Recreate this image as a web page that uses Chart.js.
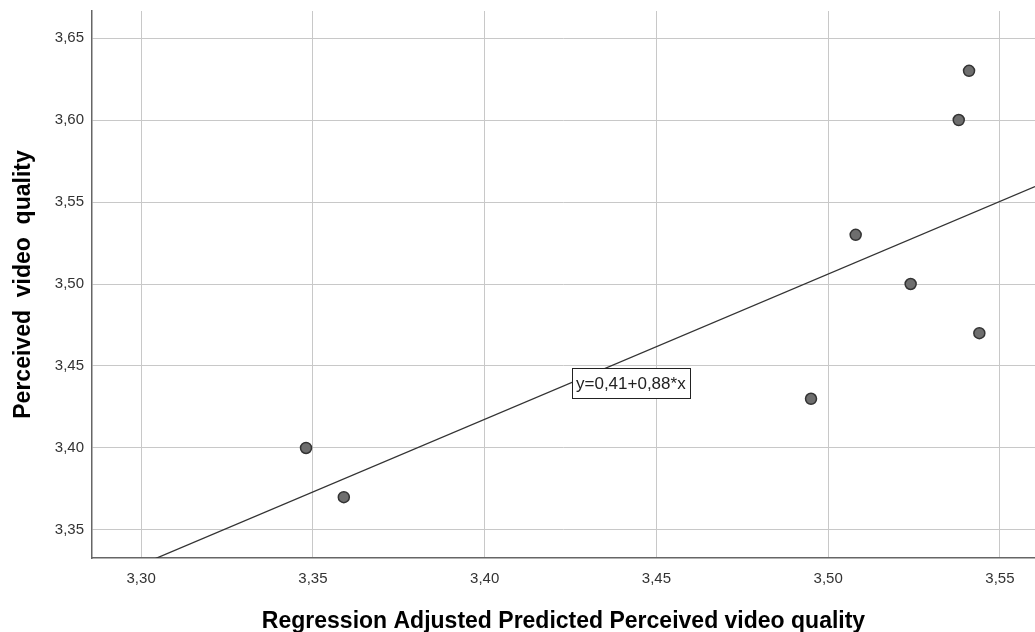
<!DOCTYPE html>
<html>
<head>
<meta charset="utf-8">
<script src="https://cdn.jsdelivr.net/npm/chart.js@4"></script>
<style>
  html, body { margin: 0; padding: 0; background: #fff; overflow: hidden; }
  #wrap { width: 1035px; height: 632px; overflow: hidden; }
</style>
</head>
<body>
<!-- canvas a bit wider than the window: the plot in the original runs off the right edge -->
<div id="wrap"><canvas id="myChart" width="1042" height="632"></canvas></div>
<script>
// observed points (predicted vs perceived)
const predicted = [3.348, 3.359, 3.495, 3.508, 3.524, 3.538, 3.541, 3.544];
const perceived = [3.40, 3.37, 3.43, 3.53, 3.50, 3.60, 3.63, 3.47];

// fit line end points
const fitX = [3.2857, 3.5602];
const fitY = [3.3162, 3.5594];

const fitLabel = 'y=0,41+0,88*x';
const xTitle = 'Regression Adjusted Predicted Perceived video quality';
const yTitle = 'Perceived  video  quality';

const fmt = v => v.toFixed(2).replace('.', ',');
const FONT = '"Liberation Sans", Arial, sans-serif';

const points = predicted.map((x, i) => ({ x: x, y: perceived[i] }));
const line = fitX.map((x, i) => ({ x: x, y: fitY[i] }));

// little boxed equation, like spss puts on the fit line
const eqBox = {
  id: 'eqBox',
  afterDatasetsDraw(chart) {
    const ctx = chart.ctx;
    const xs = chart.scales.x, ys = chart.scales.y;
    const left = Math.round(xs.getPixelForValue(3.4253));
    const mid = Math.round(ys.getPixelForValue(3.4396));
    ctx.save();
    ctx.font = '17px ' + FONT;
    const w = Math.round(ctx.measureText(fitLabel).width) + 8;
    const h = 30;
    ctx.fillStyle = '#fff';
    ctx.fillRect(left, mid - h / 2, w, h);
    ctx.strokeStyle = '#222';
    ctx.lineWidth = 1;
    ctx.strokeRect(left + 0.5, mid - h / 2 + 0.5, w, h);
    ctx.fillStyle = '#222';
    ctx.textBaseline = 'middle';
    ctx.fillText(fitLabel, left + 4, mid + 1);
    ctx.restore();
  }
};

new Chart('myChart', {
  type: 'scatter',
  data: {
    datasets: [
      {
        type: 'line',
        data: line,
        borderColor: '#333',
        borderWidth: 1.3,
        pointRadius: 0,
        fill: false
      },
      {
        data: points,
        backgroundColor: '#6e6e6e',
        borderColor: '#333',
        borderWidth: 1.5,
        pointRadius: 5.5,
        pointHoverRadius: 5.5
      }
    ]
  },
  options: {
    responsive: false,
    animation: false,
    layout: { padding: { top: 11, right: 0, left: 0, bottom: 0 } },
    plugins: { legend: { display: false }, tooltip: { enabled: false } },
    scales: {
      x: {
        type: 'linear',
        min: 3.2857,
        max: 3.5602,
        afterFit: s => { s.height = 74; s.paddingLeft = 0; s.paddingRight = 0; },
        border: { color: '#666', width: 1.5 },
        grid: { color: '#c8c8c8', drawTicks: false },
        ticks: {
          stepSize: 0.05,
          includeBounds: false,
          padding: 12,
          maxRotation: 0,
          color: '#333',
          font: { family: FONT, size: 15 },
          callback: v => fmt(v)
        },
        title: {
          display: true,
          text: xTitle,
          color: '#000',
          padding: { top: 0, bottom: -3 },
          font: { family: FONT, size: 23, weight: 'bold' }
        }
      },
      y: {
        type: 'linear',
        min: 3.3329,
        max: 3.6665,
        afterFit: s => { s.width = 92; s.paddingTop = 0; s.paddingBottom = 0; },
        border: { color: '#666', width: 1.5 },
        grid: { color: '#c8c8c8', drawTicks: false },
        ticks: {
          stepSize: 0.05,
          includeBounds: false,
          padding: 8,
          color: '#333',
          font: { family: FONT, size: 15 },
          callback: v => fmt(v)
        },
        title: {
          display: true,
          text: yTitle,
          color: '#000',
          padding: { top: 10, bottom: 0 },
          font: { family: FONT, size: 23, weight: 'bold' }
        }
      }
    }
  },
  plugins: [eqBox]
});
</script>
</body>
</html>
